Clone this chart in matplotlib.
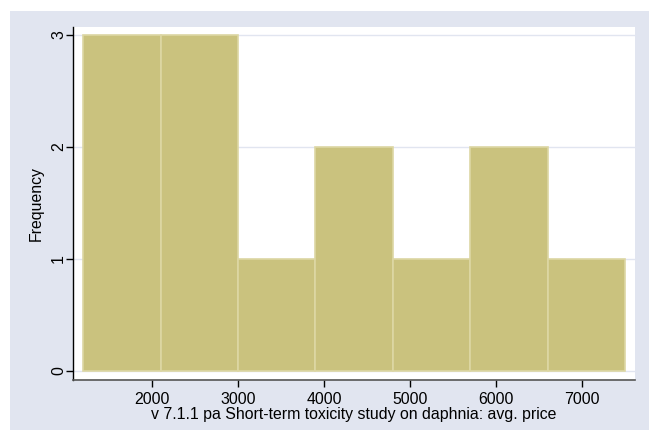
import matplotlib
matplotlib.use("Agg")
import matplotlib.pyplot as plt
from matplotlib.patches import Rectangle

# histogram bins (avg. price) and frequencies
bin_edges = [1200, 2100, 3000, 3900, 4800, 5700, 6600, 7500]
counts = [3, 3, 1, 2, 1, 2, 1]
x_ticks = [2000, 3000, 4000, 5000, 6000, 7000]
y_ticks = [0, 1, 2, 3]

plt.rcParams['font.family'] = ['Liberation Sans', 'DejaVu Sans']

W, H = 649, 430
fig = plt.figure(figsize=(W / 100, H / 100), dpi=100, facecolor='white')

# Stata-like outer background region, kept behind the axes
bg = Rectangle((10 / W, 0), 1 - 10 / W, (H - 11) / H,
               transform=fig.transFigure, facecolor='#E1E5F0',
               edgecolor='none', zorder=-10)
fig.add_artist(bg)

ax = fig.add_axes([73 / W, (H - 380) / H, (635 - 73) / W, (380 - 27) / H])
ax.set_zorder(5)
ax.set_facecolor('white')

widths = [bin_edges[i + 1] - bin_edges[i] for i in range(len(counts))]
ax.bar(bin_edges[:-1], counts, width=widths, align='edge',
       color='#CAC27E', edgecolor='#DDD7A4', linewidth=1.2, zorder=2)

for y in y_ticks:
    ax.axhline(y, color='#E1E5F0', linewidth=1, zorder=1)

ax.set_xlim(1081, 7616)
ax.set_ylim(-0.08, 3.07)
ax.set_xticks(x_ticks)
ax.set_yticks(y_ticks)
ax.set_yticklabels([str(v) for v in y_ticks], rotation=90, va='center')

for side in ['top', 'right']:
    ax.spines[side].set_visible(False)
ax.spines['left'].set_color('black')
ax.spines['bottom'].set_color('#555555')
ax.spines['left'].set_linewidth(1)
ax.spines['bottom'].set_linewidth(1.2)
ax.tick_params(axis='both', direction='out', length=5, width=1,
               labelsize=11.4, colors='black')
ax.tick_params(axis='x', pad=4)
ax.tick_params(axis='y', pad=0)

ax.set_ylabel('Frequency', fontsize=11.4, labelpad=5)
ax.set_xlabel('v 7.1.1 pa Short-term toxicity study on daphnia: avg. price',
              fontsize=11.4, labelpad=0)

fig.savefig('out.png', dpi=100, facecolor=fig.get_facecolor())
